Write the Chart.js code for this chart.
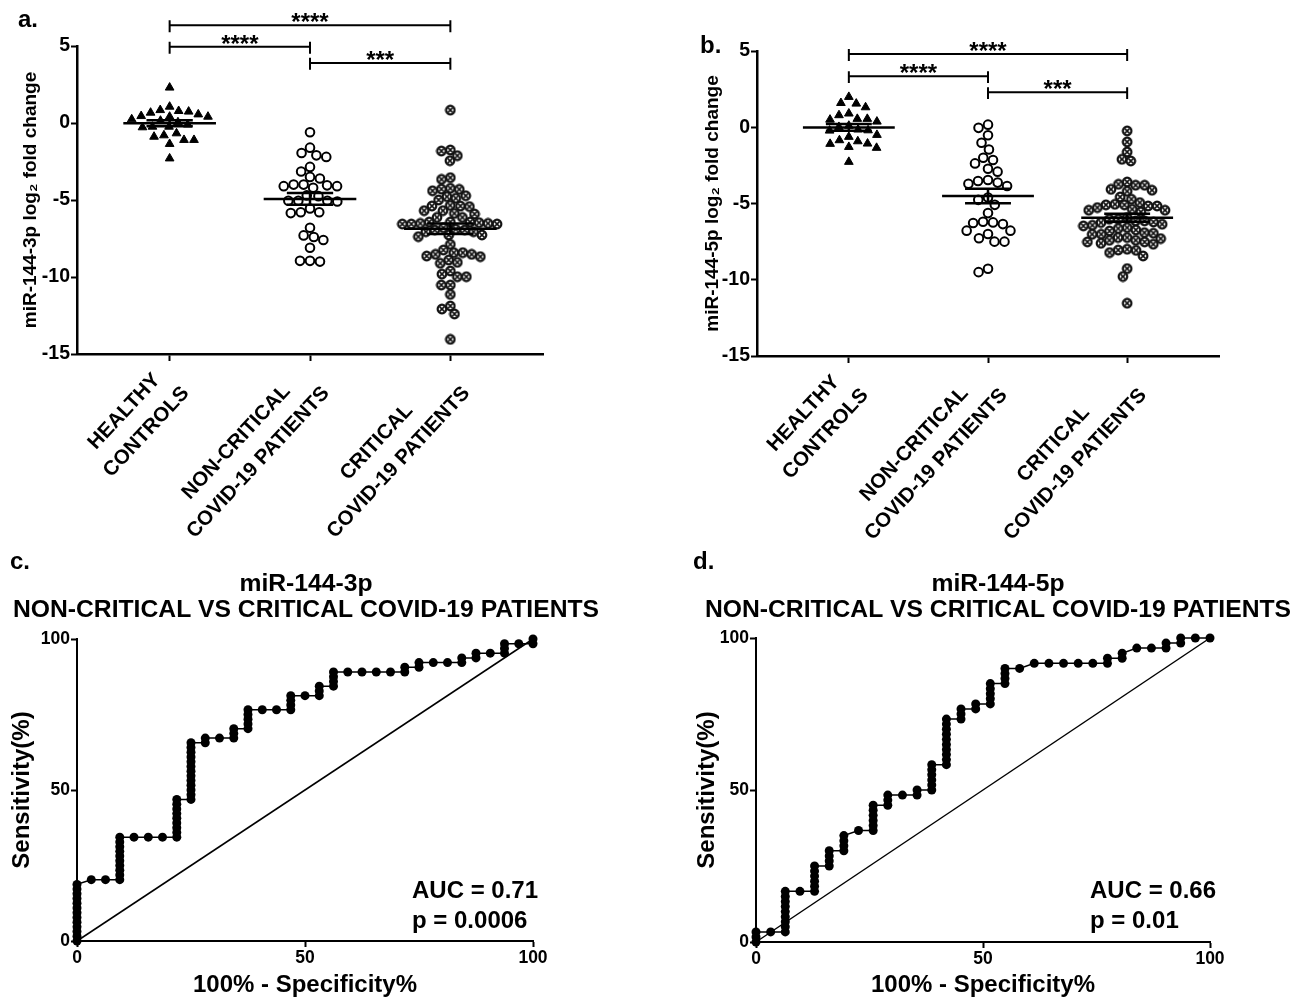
<!DOCTYPE html>
<html>
<head>
<meta charset="utf-8">
<title>miR-144 dot plots and ROC</title>
<script src="https://cdn.jsdelivr.net/npm/chart.js@4.4.1/dist/chart.umd.min.js"></script>
<style>
  body { margin: 0; background: #fff; width: 1306px; height: 1000px; position: relative; overflow: hidden; }
  .panel { position: absolute; }
</style>
</head>
<body>
<div class="panel" style="left:0;top:0;width:560px;height:540px"><canvas id="chartA"></canvas></div>
<div class="panel" style="left:680px;top:0;width:560px;height:540px"><canvas id="chartB"></canvas></div>
<div class="panel" style="left:0;top:545px;width:640px;height:455px"><canvas id="chartC"></canvas></div>
<div class="panel" style="left:679px;top:545px;width:627px;height:455px"><canvas id="chartD"></canvas></div>
<script>
/* ========= DATA ========= */
const groups = [["HEALTHY", "CONTROLS"], ["NON-CRITICAL", "COVID-19 PATIENTS"], ["CRITICAL", "COVID-19 PATIENTS"]];
const dotTicks = [-15, -10, -5, 0, 5];

// log2 fold change, miR-144-3p
const healthy3p = [2.3, 1.06, 0.84, 0.78, 0.74, 0.67, 0.56, 0.45, 0.41, 0.41, 0.24, 0.15, 0.05, -0.1, -0.24, -0.24, -0.28, -0.67, -0.8, -0.89, -1.1, -1.1, -1.36, -2.3];
const nonCrit3p = [-0.6, -1.6, -1.95, -2.1, -2.2, -2.85, -3.15, -3.5, -3.6, -4.0, -4.0, -4.05, -4.1, -4.1, -4.2, -4.7, -4.75, -5.05, -5.05, -5.05, -5.1, -5.55, -5.8, -5.8, -5.85, -6.8, -7.3, -7.4, -7.6, -8.1, -8.95, -8.95, -9.0];
const crit3p = [0.84, -1.75, -1.82, -2.12, -2.45, -3.55, -3.66, -4.24, -4.29, -4.31, -4.4, -4.72, -4.78, -4.89, -5.0, -5.35, -5.39, -5.39, -5.43, -5.69, -5.69, -5.87, -5.91, -6.13, -6.13, -6.43, -6.43, -6.43, -6.47, -6.52, -6.52, -6.56, -6.56, -6.56, -6.8, -6.9, -6.95, -6.95, -7.06, -7.06, -7.27, -7.27, -7.38, -7.88, -8.25, -8.42, -8.42, -8.53, -8.53, -8.64, -8.68, -8.9, -9.05, -9.11, -9.61, -9.81, -9.98, -9.98, -10.52, -10.52, -11.13, -11.88, -12.08, -12.4, -14.05];

// log2 fold change, miR-144-5p
const healthy5p = [1.99, 1.59, 1.55, 1.31, 0.9, 0.79, 0.55, 0.55, 0.5, 0.37, 0.1, 0.02, -0.15, -0.2, -0.22, -0.5, -0.63, -0.85, -0.92, -1.07, -1.09, -1.29, -1.35, -2.27];
const nonCrit5p = [0.17, -0.04, -0.52, -1.02, -1.46, -2.0, -2.15, -2.37, -2.72, -2.91, -3.46, -3.52, -3.63, -3.7, -3.85, -4.61, -4.76, -5.09, -5.63, -6.2, -6.24, -6.28, -6.35, -6.78, -6.78, -7.0, -7.28, -7.5, -7.5, -9.28, -9.5];
const crit5p = [-0.24, -0.96, -1.62, -2.1, -2.21, -3.59, -3.74, -3.8, -3.8, -4.07, -4.13, -4.2, -4.57, -4.72, -4.94, -5.05, -5.09, -5.09, -5.16, -5.16, -5.27, -5.38, -5.44, -5.44, -5.55, -5.92, -6.03, -6.03, -6.14, -6.14, -6.21, -6.25, -6.36, -6.43, -6.47, -6.58, -6.64, -6.73, -6.8, -6.91, -6.95, -7.02, -7.02, -7.23, -7.23, -7.3, -7.41, -7.41, -7.52, -7.52, -7.61, -7.67, -8.0, -8.05, -8.07, -8.22, -8.44, -9.27, -9.79, -11.54];

// significance brackets (group pairs, stars, bracket height in data units)
const sigPairs = [[0, 2], [0, 1], [1, 2]];
const sigStars = ["****", "****", "***"];
const sigLevels3p = [6.35, 4.95, 3.9];
const sigLevels5p = [4.8, 3.35, 2.3];

// ROC: 100% - specificity, with the sensitivity values reached at each step
const rocTicks = [0, 50, 100];
const roc3pFpr = [0, 3.13, 6.25, 9.38, 12.5, 15.63, 18.75, 21.88, 25, 28.13, 31.25, 34.38, 37.5, 40.63, 43.75, 46.88, 50, 53.13, 56.25, 59.38, 62.5, 65.63, 68.75, 71.88, 75, 78.13, 81.25, 84.38, 87.5, 90.63, 93.75, 96.88, 100];
const roc3pTpr = [
  [0, 1.56, 3.13, 4.69, 6.25, 7.81, 9.38, 10.94, 12.5, 14.06, 15.63, 17.19, 18.75],
  [20.31], [20.31],
  [20.31, 21.88, 23.44, 25, 26.56, 28.13, 29.69, 31.25, 32.81, 34.38],
  [34.38], [34.38], [34.38],
  [34.38, 35.94, 37.5, 39.06, 40.63, 42.19, 43.75, 45.31, 46.88],
  [46.88, 48.44, 50, 51.56, 53.13, 54.69, 56.25, 57.81, 59.38, 60.94, 62.5, 64.06, 65.63],
  [65.63, 67.19], [67.19], [67.19, 68.75, 70.31],
  [70.31, 71.88, 73.44, 75, 76.56],
  [76.56], [76.56], [76.56, 78.13, 79.69, 81.25],
  [81.25], [81.25, 82.81, 84.38], [84.38, 85.94, 87.5, 89.06],
  [89.06], [89.06], [89.06], [89.06],
  [89.06, 90.63], [90.63, 92.19], [92.19], [92.19], [92.19, 93.75], [93.75, 95.31],
  [95.31], [95.31, 96.88, 98.44], [98.44], [98.44, 100]
];
const roc5pFpr = [0, 3.23, 6.45, 9.68, 12.9, 16.13, 19.35, 22.58, 25.81, 29.03, 32.26, 35.48, 38.71, 41.94, 45.16, 48.39, 51.61, 54.84, 58.06, 61.29, 64.52, 67.74, 70.97, 74.19, 77.42, 80.65, 83.87, 87.1, 90.32, 93.55, 96.77, 100];
const roc5pTpr = [
  [0, 1.67, 3.33], [3.33],
  [3.33, 5, 6.67, 8.33, 10, 11.67, 13.33, 15, 16.67],
  [16.67], [16.67, 18.33, 20, 21.67, 23.33, 25],
  [25, 26.67, 28.33, 30], [30, 31.67, 33.33, 35], [36.67],
  [36.67, 38.33, 40, 41.67, 43.33, 45], [45, 46.67, 48.33], [48.33], [48.33, 50],
  [50, 51.67, 53.33, 55, 56.67, 58.33],
  [58.33, 60, 61.67, 63.33, 65, 66.67, 68.33, 70, 71.67, 73.33],
  [73.33, 75, 76.67], [76.67, 78.33], [78.33, 80, 81.67, 83.33, 85],
  [85, 86.67, 88.33, 90], [90],
  [91.67], [91.67], [91.67], [91.67], [91.67],
  [91.67, 93.33], [93.33, 95], [96.67], [96.67], [96.67, 98.33], [98.33, 100], [100], [100]
];
const auc3p = "0.71", p3p = "0.0006";
const auc5p = "0.66", p5p = "0.01";

/* ========= HELPERS ========= */
const FONT = '"Liberation Sans", Arial, Helvetica, sans-serif';
Chart.defaults.font.family = FONT;
Chart.defaults.color = "#000";

function bold(size) { return { family: FONT, size: size, weight: "bold" }; }

function text(ctx, s, x, y, size, align, base, rot) {
  ctx.save();
  ctx.font = "bold " + size + "px " + FONT;
  ctx.fillStyle = "#000";
  ctx.textAlign = align || "center";
  ctx.textBaseline = base || "alphabetic";
  ctx.translate(x, y);
  if (rot) ctx.rotate(rot);
  ctx.fillText(s, 0, 0);
  ctx.restore();
}

// crossed circle marker for the critical group
function crossCircle(r) {
  const c = document.createElement("canvas");
  const s = Math.ceil(2 * r + 3);
  c.width = s; c.height = s;
  const g = c.getContext("2d");
  g.translate(s / 2, s / 2);
  g.beginPath(); g.arc(0, 0, r, 0, Math.PI * 2);
  g.fillStyle = "#fff"; g.fill();
  g.lineWidth = 2.2; g.strokeStyle = "#111"; g.stroke();
  const d = r * 0.55;
  g.beginPath();
  g.moveTo(-d, -d); g.lineTo(d, d); g.moveTo(d, -d); g.lineTo(-d, d);
  g.lineWidth = 1.6; g.stroke();
  return c;
}

function meanSem(vals, i) {
  const n = vals.length;
  const m = vals.reduce((a, b) => a + b, 0) / n;
  const sd = Math.sqrt(vals.reduce((a, b) => a + (b - m) * (b - m), 0) / (n - 1));
  const se = sd / Math.sqrt(n);
  return [
    { x: i - 0.33, y: m }, { x: i + 0.33, y: m }, { x: i, y: null },
    { x: i - 0.165, y: m + se }, { x: i + 0.165, y: m + se }, { x: i, y: null },
    { x: i - 0.165, y: m - se }, { x: i + 0.165, y: m - se }, { x: i, y: null },
    { x: i, y: m - se }, { x: i, y: m + se }
  ];
}

function brackets(levels) {
  const pts = [];
  sigPairs.forEach(([a, b], k) => {
    const L = levels[k];
    pts.push({ x: a, y: L + 0.33 }, { x: a, y: L - 0.45 }, { x: a, y: null },
             { x: a, y: L }, { x: b, y: L }, { x: b, y: null },
             { x: b, y: L + 0.33 }, { x: b, y: L - 0.45 }, { x: b, y: null });
  });
  return pts;
}

// simple beeswarm in pixel space, then back to data units
function swarm(vals, center, xs, ys, gap) {
  const cx = xs.getPixelForValue(center);
  const order = vals.map((v, i) => i).sort((a, b) => vals[b] - vals[a]);
  const placed = [];
  const out = new Array(vals.length);
  order.forEach(i => {
    const py = ys.getPixelForValue(vals[i]);
    const blocked = [];
    placed.forEach(p => {
      const dy = Math.abs(p.y - py);
      if (dy < gap) {
        const w = Math.sqrt(gap * gap - dy * dy);
        blocked.push([p.x - w, p.x + w]);
      }
    });
    const cand = [0];
    blocked.forEach(b => cand.push(b[0], b[1]));
    cand.sort((a, b) => Math.abs(a) - Math.abs(b) || a - b);
    let best = 0;
    for (const c of cand) {
      if (blocked.every(b => c <= b[0] + 1e-6 || c >= b[1] - 1e-6)) { best = c; break; }
    }
    placed.push({ x: best, y: py });
    out[i] = { x: xs.getValueForPixel(cx + best), y: vals[i] };
  });
  return out;
}

function lineSet(data, width) {
  return { data: data, showLine: true, spanGaps: false, borderColor: "#000", borderWidth: width,
           pointRadius: 0, clip: false, borderCapStyle: "butt" };
}

/* ========= DOT PLOTS ========= */
function dotChart(id, sets, levels, cfg) {
  const datasets = sets.map((vals, i) => lineSet(meanSem(vals, i), 2.5));
  datasets.push(lineSet(brackets(levels), 2));
  datasets.push({ data: sets[0].map(v => ({ x: 0, y: v })), pointStyle: "triangle", pointRadius: 5,
                  backgroundColor: "#000", borderColor: "#000", borderWidth: 1, clip: false });
  datasets.push({ data: sets[1].map(v => ({ x: 1, y: v })), pointStyle: "circle", pointRadius: 4.3,
                  backgroundColor: "#fff", borderColor: "#000", borderWidth: 2, clip: false });
  datasets.push({ data: sets[2].map(v => ({ x: 2, y: v })), pointStyle: crossCircle(4.3), clip: false });

  const deco = {
    id: "deco" + id,
    afterDraw(chart) {
      const ctx = chart.ctx, xs = chart.scales.x, ys = chart.scales.y;
      sigPairs.forEach(([a, b], k) => {
        text(ctx, sigStars[k], xs.getPixelForValue((a + b) / 2), ys.getPixelForValue(levels[k]) + 5, 24, "center");
      });
      ctx.save();
      ctx.font = "bold 20.5px " + FONT;
      groups.forEach((lines, i) => {
        const W = Math.max(...lines.map(l => ctx.measureText(l).width));
        const tx = xs.getPixelForValue(i) + cfg.lblDx;
        const ty = xs.top + cfg.lblDy;
        ctx.save();
        ctx.translate(tx, ty);
        ctx.rotate(-cfg.lblRot * Math.PI / 180);
        ctx.fillStyle = "#000";
        ctx.textAlign = "center";
        ctx.textBaseline = "middle";
        lines.forEach((l, k) => ctx.fillText(l, -W / 2, (k - (lines.length - 1)) * cfg.lblLh));
        ctx.restore();
      });
      ctx.restore();
      text(ctx, cfg.letter, cfg.letterX, cfg.letterY, 24, "left");
    }
  };

  const chart = new Chart(document.getElementById(id), {
    type: "scatter",
    data: { datasets: datasets },
    options: {
      responsive: true, maintainAspectRatio: false, animation: false, events: [],
      layout: { padding: { top: cfg.top, right: cfg.right, bottom: 0, left: 0 } },
      plugins: { legend: { display: false }, tooltip: { enabled: false } },
      scales: {
        x: {
          type: "linear", min: -0.66, max: 2.66,
          afterBuildTicks: s => { s.ticks = groups.map((g, i) => ({ value: i })); },
          afterFit: s => { s.height = cfg.xh; },
          ticks: { display: false },
          grid: { drawOnChartArea: false, drawTicks: true, tickLength: 7, tickWidth: 2, tickColor: "#000" },
          border: { display: true, color: "#000", width: 2.5 }
        },
        y: {
          min: -15, max: 5,
          afterBuildTicks: s => { s.ticks = dotTicks.map(v => ({ value: v })); },
          afterFit: s => { s.width = 77; },
          ticks: { color: "#000", padding: 1, font: bold(19.5) },
          grid: { drawOnChartArea: false, drawTicks: true, tickLength: 6, tickWidth: 2, tickColor: "#000" },
          border: { display: true, color: "#000", width: 2.5 },
          title: { display: true, text: cfg.ytitle, color: "#000", font: bold(19), padding: { top: cfg.tpad, bottom: 0 } }
        }
      }
    },
    plugins: [deco]
  });

  // lay the points out as a swarm once the scales exist
  const xs = chart.scales.x, ys = chart.scales.y;
  sets.forEach((vals, i) => {
    chart.data.datasets[4 + i].data = swarm(vals, i, xs, ys, cfg.gaps[i]);
  });
  chart.update("none");
  return chart;
}

/* ========= ROC CURVES ========= */
function rocChart(id, fpr, tpr, cfg) {
  const pts = fpr.flatMap((x, i) => tpr[i].map(y => ({ x: x, y: y })));
  const deco = {
    id: "deco" + id,
    afterDraw(chart) {
      const ctx = chart.ctx;
      text(ctx, cfg.letter, cfg.letterX, cfg.letterY, 24, "left");
      text(ctx, cfg.title[0], cfg.titleX, 46, 24.7, "center");
      text(ctx, cfg.title[1], cfg.titleX, 72, 24.7, "center");
      text(ctx, "AUC = " + cfg.auc, cfg.statX, 353, 24, "left");
      text(ctx, "p = " + cfg.p, cfg.statX, 383, 24, "left");
    }
  };
  return new Chart(document.getElementById(id), {
    type: "scatter",
    data: {
      datasets: [
        { data: pts, showLine: true, borderColor: "#000", borderWidth: 1.5, pointRadius: 4.5,
          pointBackgroundColor: "#000", pointBorderWidth: 0, clip: false },
        { data: [{ x: 0, y: 0 }, { x: 100, y: 100 }], showLine: true, borderColor: "#000", borderWidth: 1.5,
          pointRadius: 0, clip: false }
      ]
    },
    options: {
      responsive: true, maintainAspectRatio: false, animation: false, events: [],
      layout: { padding: { top: cfg.top, right: cfg.right, bottom: 0, left: 0 } },
      plugins: { legend: { display: false }, tooltip: { enabled: false } },
      scales: {
        x: {
          type: "linear", min: 0, max: 100,
          afterBuildTicks: s => { s.ticks = rocTicks.map(v => ({ value: v })); },
          afterFit: s => { s.height = cfg.xh; },
          ticks: { color: "#000", padding: 1, font: bold(17.5), maxRotation: 0 },
          grid: { drawOnChartArea: false, drawTicks: true, tickLength: 6, tickWidth: 2, tickColor: "#000" },
          border: { display: true, color: "#000", width: 2 },
          title: { display: true, text: "100% - Specificity%", color: "#000", font: bold(24), padding: { top: 0, bottom: 0 } }
        },
        y: {
          min: 0, max: 100,
          afterBuildTicks: s => { s.ticks = rocTicks.map(v => ({ value: v })); },
          afterFit: s => { s.width = 77; },
          ticks: { color: "#000", padding: 1, font: bold(17.5) },
          grid: { drawOnChartArea: false, drawTicks: true, tickLength: 6, tickWidth: 2, tickColor: "#000" },
          border: { display: true, color: "#000", width: 2 },
          title: { display: true, text: "Sensitivity(%)", color: "#000", font: bold(24), padding: { top: cfg.tpad, bottom: 0 } }
        }
      }
    },
    plugins: [deco]
  });
}

/* ========= START ========= */
dotChart("chartA", [healthy3p, nonCrit3p, crit3p], sigLevels3p, {
  top: 46, right: 17, xh: 186, tpad: 19, ytitle: "miR-144-3p log\u2082 fold change",
  gaps: [10, 10, 9], lblDx: 16, lblDy: 36, lblLh: 30, lblRot: 47, letter: "a.", letterX: 18, letterY: 27
});
dotChart("chartB", [healthy5p, nonCrit5p, crit5p], sigLevels5p, {
  top: 51, right: 21, xh: 184, tpad: 21, ytitle: "miR-144-5p log\u2082 fold change",
  gaps: [10, 10, 9], lblDx: 16, lblDy: 36, lblLh: 30, lblRot: 47, letter: "b.", letterX: 20, letterY: 53
});
rocChart("chartC", roc3pFpr, roc3pTpr, {
  top: 94, right: 107, xh: 59, tpad: 8, letter: "c.", letterX: 10, letterY: 24,
  title: ["miR-144-3p", "NON-CRITICAL VS CRITICAL COVID-19 PATIENTS"], titleX: 306,
  auc: auc3p, p: p3p, statX: 412
});
rocChart("chartD", roc5pFpr, roc5pTpr, {
  top: 93, right: 96, xh: 58, tpad: 14, letter: "d.", letterX: 14, letterY: 24,
  title: ["miR-144-5p", "NON-CRITICAL VS CRITICAL COVID-19 PATIENTS"], titleX: 319,
  auc: auc5p, p: p5p, statX: 411
});
</script>
</body>
</html>
